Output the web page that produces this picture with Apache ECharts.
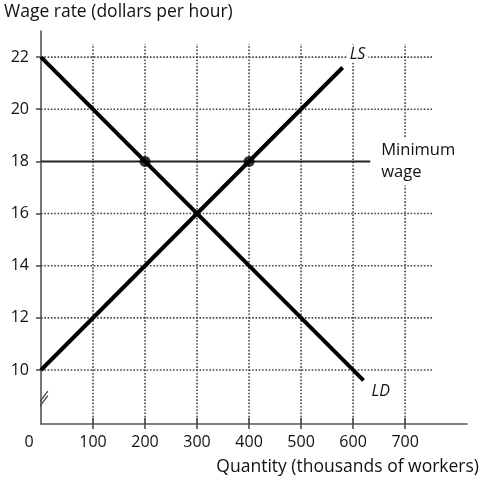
<!DOCTYPE html>
<html><head><meta charset="utf-8">
<script src="https://cdn.jsdelivr.net/npm/echarts@6/dist/echarts.min.js"></script>
<style>html,body{margin:0;padding:0;background:#fff}#c{width:484px;height:485px}</style>
</head><body><div id="c"></div>
<script>
// ---- data ----
const xTickValues = [0, 100, 200, 300, 400, 500, 600, 700];
const yTickValues = [10, 12, 14, 16, 18, 20, 22];
const gridYValues = [10, 12, 14, 16, 20, 22];
const gridXValues = [100, 200, 300, 400, 500, 600, 700];
const laborSupply = [[0, 10], [580, 21.6]];
const laborDemand = [[0, 22], [620, 9.6]];
const minimumWage = [[0, 18], [633, 18]];
const keyPoints = [[200, 18], [400, 18]];
const xMin = 0, xMax = 819, yMin = 7.93, yMax = 23.0;
const gridXEnd = 754, gridYTop = 22.5;
const breakMarks = [[[-13, 8.49], [13, 9.19]], [[-13, 8.32], [13, 9.02]]];

const FONT = "'Open Sans', sans-serif";
const TXT = '#111';
const chart = echarts.init(document.getElementById('c'), null, {renderer: 'canvas'});

const dotted = {color: '#444', width: 1.6, type: [1.6, 1.7]};
const series = [];
gridYValues.forEach(v => series.push({
  type: 'line', data: [[xMin, v], [gridXEnd, v]], symbol: 'none', silent: true,
  lineStyle: dotted, z: 1, animation: false
}));
gridXValues.forEach(v => series.push({
  type: 'line', data: [[v, yMin], [v, gridYTop]], symbol: 'none', silent: true,
  lineStyle: dotted, z: 1, animation: false
}));
breakMarks.forEach(seg => series.push({
  type: 'line', data: seg, symbol: 'none', clip: false, silent: true,
  lineStyle: {color: '#444', width: 1.3}, z: 6, animation: false
}));
series.push({
  type: 'line', data: minimumWage, symbol: 'none', animation: false, z: 4,
  lineStyle: {color: '#222', width: 2},
  endLabel: {show: true, formatter: 'Minimum\nwage', distance: 9, align: 'left',
    fontFamily: FONT, fontSize: 16.5, color: TXT, lineHeight: 22,
    backgroundColor: '#fff', padding: [2, 2, 2, 2]}
});
series.push({
  type: 'line', data: laborSupply, symbol: 'none', animation: false, z: 5,
  lineStyle: {color: '#000', width: 4},
  endLabel: {show: true, formatter: 'LS', offset: [0, -13], distance: 5,
    fontFamily: FONT, fontSize: 16, fontStyle: 'italic', color: TXT,
    backgroundColor: '#fff', padding: [0, 3, 0, 2]}
});
series.push({
  type: 'line', data: laborDemand, symbol: 'none', animation: false, z: 5,
  lineStyle: {color: '#000', width: 4},
  endLabel: {show: true, formatter: 'LD', offset: [2, 11], distance: 6,
    fontFamily: FONT, fontSize: 16, fontStyle: 'italic', color: TXT}
});
series.push({
  type: 'scatter', data: keyPoints, symbol: 'circle', symbolSize: 11,
  itemStyle: {color: '#000'}, z: 7, animation: false
});

chart.setOption({
  animation: false,
  backgroundColor: '#fff',
  grid: {left: 41, right: 17, top: 31, bottom: 61, containLabel: false},
  xAxis: [{
    type: 'value', min: xMin, max: xMax, interval: 100, position: 'bottom',
    splitLine: {show: false},
    axisLine: {show: true, onZero: false, lineStyle: {color: '#555', width: 1.6}},
    axisTick: {show: true, customValues: gridXValues, length: 5, lineStyle: {color: '#444', width: 1.5}},
    axisLabel: {show: true, customValues: xTickValues, margin: 10,
      fontFamily: FONT, fontSize: 16, color: TXT,
      formatter: v => v === 0 ? '{z|0}' : String(v),
      rich: {z: {fontFamily: FONT, fontSize: 16, color: TXT, padding: [0, 24, 0, 0]}}}
  }, {
    type: 'value', min: xMin, max: xMax, interval: 100, position: 'bottom',
    splitLine: {show: false}, axisLine: {show: false},
    axisTick: {show: true, inside: true, customValues: gridXValues, length: 6, lineStyle: {color: '#444', width: 1.5}},
    axisLabel: {show: false}
  }],
  yAxis: {
    type: 'value', min: yMin, max: yMax, interval: 2,
    splitLine: {show: false},
    axisLine: {show: true, onZero: false, lineStyle: {color: '#555', width: 1.6}},
    axisTick: {show: true, customValues: yTickValues, length: 5, lineStyle: {color: '#444', width: 1.5}},
    axisLabel: {show: true, customValues: yTickValues, margin: 12,
      fontFamily: FONT, fontSize: 16, color: TXT}
  },
  graphic: [
    {type: 'text', left: 4, top: 3, style: {text: 'Wage rate (dollars per hour)', fontFamily: FONT, fontSize: 17.5, fill: TXT}},
    {type: 'text', right: 5, top: 458, style: {text: 'Quantity (thousands of workers)', fontFamily: FONT, fontSize: 17.5, fill: TXT}}
  ],
  series: series
});
</script></body></html>
